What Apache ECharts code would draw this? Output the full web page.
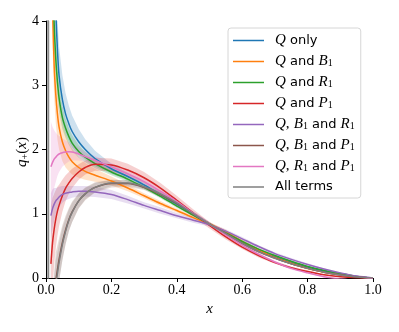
<!DOCTYPE html>
<html>
<head>
<meta charset="utf-8">
<script src="https://cdn.jsdelivr.net/npm/echarts@6/dist/echarts.min.js"></script>
<style>
html, body { margin: 0; padding: 0; background: #fff; }
#main { width: 399px; height: 332px; }
</style>
</head>
<body>
<div id="main"></div>
<script>
// x grid shared by every curve
var xs = [0.005, 0.01, 0.015, 0.02, 0.025, 0.03, 0.035, 0.04, 0.05, 0.06, 0.07, 0.08, 0.1, 0.12, 0.15,
          0.2, 0.25, 0.3, 0.35, 0.4, 0.45, 0.5, 0.55, 0.6, 0.65, 0.7, 0.75, 0.8, 0.85, 0.9, 0.95, 1.0];

var qOnly    = [null, null, null, 6.2, 5.0, 4.15, 3.55, 3.15, 2.78, 2.55, 2.40, 2.28, 2.12, 2.00, 1.86,
                1.70, 1.58, 1.45, 1.30, 1.15, 1.00, 0.84, 0.69, 0.55, 0.43, 0.33, 0.24, 0.17, 0.11, 0.06, 0.02, 0];
var qB1      = [null, null, null, 4.2, 3.3, 2.85, 2.55, 2.35, 2.12, 1.98, 1.88, 1.81, 1.72, 1.66, 1.60,
                1.51, 1.40, 1.28, 1.16, 1.05, 0.94, 0.84, 0.72, 0.57, 0.44, 0.32, 0.23, 0.15, 0.09, 0.05, 0.015, 0];
var qR1      = [null, null, null, 4.8, 3.95, 3.4, 3.05, 2.8, 2.5, 2.33, 2.2, 2.1, 1.97, 1.88, 1.78,
                1.65, 1.54, 1.41, 1.27, 1.12, 0.98, 0.84, 0.70, 0.57, 0.45, 0.35, 0.26, 0.18, 0.12, 0.07, 0.025, 0];
var qP1      = [null, null, 0.22, 0.55, 0.76, 0.92, 1.04, 1.13, 1.28, 1.40, 1.48, 1.55, 1.65, 1.72, 1.77,
                1.76, 1.68, 1.56, 1.40, 1.21, 1.01, 0.82, 0.64, 0.48, 0.35, 0.24, 0.16, 0.10, 0.05, 0.02, 0.005, 0];
var qB1R1    = [null, null, 0.97, 1.08, 1.15, 1.20, 1.23, 1.26, 1.30, 1.32, 1.33, 1.34, 1.35, 1.35, 1.34,
                1.30, 1.22, 1.13, 1.05, 0.97, 0.90, 0.83, 0.73, 0.61, 0.49, 0.38, 0.29, 0.21, 0.14, 0.08, 0.03, 0];
var qB1P1    = [null, null, null, -1.4, -0.5, -0.05, 0.13, 0.29, 0.55, 0.75, 0.91, 1.03, 1.20, 1.31, 1.41,
                1.47, 1.47, 1.41, 1.30, 1.16, 1.00, 0.84, 0.69, 0.54, 0.41, 0.31, 0.22, 0.15, 0.09, 0.045, 0.015, 0];
var qR1P1    = [null, null, 1.73, 1.80, 1.85, 1.88, 1.91, 1.93, 1.95, 1.96, 1.965, 1.96, 1.93, 1.89, 1.83,
                1.73, 1.62, 1.50, 1.35, 1.19, 1.01, 0.84, 0.67, 0.51, 0.37, 0.25, 0.15, 0.08, 0.02, -0.015, -0.035, 0];
var allTerms = [30, -30, -8, -1.5, -0.6, -0.12, 0.07, 0.24, 0.52, 0.73, 0.90, 1.02, 1.20, 1.31, 1.41,
                1.48, 1.48, 1.42, 1.31, 1.17, 1.00, 0.84, 0.69, 0.54, 0.41, 0.31, 0.22, 0.15, 0.09, 0.045, 0.015, 0];

// half widths of the shaded uncertainty bands
var qOnlyErr    = [null, null, null, 1.0, 0.8, 0.6, 0.5, 0.45, 0.38, 0.32, 0.28, 0.25, 0.2, 0.16, 0.12,
                   0.08, 0.06, 0.05, 0.04, 0.04, 0.03, 0.03, 0.03, 0.03, 0.02, 0.02, 0.02, 0.02, 0.01, 0.01, 0.01, 0];
var qB1Err      = [null, null, null, 0.6, 0.5, 0.45, 0.4, 0.35, 0.3, 0.26, 0.22, 0.2, 0.16, 0.13, 0.1,
                   0.07, 0.05, 0.04, 0.04, 0.03, 0.03, 0.03, 0.03, 0.03, 0.02, 0.02, 0.02, 0.02, 0.01, 0.01, 0.01, 0];
var qR1Err      = [null, null, null, 0.4, 0.35, 0.3, 0.25, 0.22, 0.18, 0.15, 0.13, 0.12, 0.1, 0.08, 0.07,
                   0.05, 0.04, 0.03, 0.03, 0.03, 0.02, 0.02, 0.02, 0.02, 0.02, 0.02, 0.01, 0.01, 0.01, 0.01, 0.01, 0];
var qP1Err      = [null, null, 0.9, 0.7, 0.55, 0.45, 0.38, 0.32, 0.25, 0.2, 0.17, 0.15, 0.12, 0.11, 0.1,
                   0.1, 0.1, 0.09, 0.08, 0.07, 0.06, 0.05, 0.04, 0.03, 0.03, 0.02, 0.02, 0.02, 0.01, 0.01, 0.01, 0];
var qB1R1Err    = [null, null, 0.35, 0.3, 0.25, 0.2, 0.18, 0.16, 0.13, 0.11, 0.1, 0.09, 0.08, 0.08, 0.08,
                   0.07, 0.06, 0.05, 0.05, 0.04, 0.04, 0.03, 0.03, 0.03, 0.02, 0.02, 0.02, 0.02, 0.01, 0.01, 0.01, 0];
var qB1P1Err    = [null, null, null, 1.0, 0.6, 0.45, 0.38, 0.33, 0.27, 0.22, 0.18, 0.16, 0.12, 0.1, 0.08,
                   0.06, 0.05, 0.04, 0.04, 0.03, 0.03, 0.02, 0.02, 0.02, 0.02, 0.02, 0.01, 0.01, 0.01, 0.01, 0.01, 0];
var qR1P1Err    = [null, null, 0.7, 0.55, 0.45, 0.38, 0.32, 0.28, 0.22, 0.18, 0.15, 0.13, 0.1, 0.08, 0.07,
                   0.06, 0.05, 0.05, 0.04, 0.04, 0.03, 0.03, 0.03, 0.02, 0.02, 0.02, 0.02, 0.01, 0.01, 0.01, 0.01, 0];
var allTermsErr = [40, 40, 2, 1.0, 0.6, 0.4, 0.33, 0.3, 0.25, 0.2, 0.17, 0.15, 0.11, 0.09, 0.07,
                   0.05, 0.04, 0.04, 0.03, 0.03, 0.03, 0.02, 0.02, 0.02, 0.02, 0.02, 0.01, 0.01, 0.01, 0.01, 0.01, 0];

var names = ['Q only', 'Q and B1', 'Q and R1', 'Q and P1', 'Q, B1 and R1', 'Q, B1 and P1', 'Q, R1 and P1', 'All terms'];
var labels = [
    '{m|Q} only',
    '{m|Q} and {m|B}{s|1}',
    '{m|Q} and {m|R}{s|1}',
    '{m|Q} and {m|P}{s|1}',
    '{m|Q}{n|,} {m|B}{s|1} and {m|R}{s|1}',
    '{m|Q}{n|,} {m|B}{s|1} and {m|P}{s|1}',
    '{m|Q}{n|,} {m|R}{s|1} and {m|P}{s|1}',
    'All terms'
];
var colors = ['#1f77b4', '#ff7f0e', '#2ca02c', '#d62728', '#9467bd', '#8c564b', '#e377c2', '#7f7f7f'];
var curves = [qOnly, qB1, qR1, qP1, qB1R1, qB1P1, qR1P1, allTerms];
var errs = [qOnlyErr, qB1Err, qR1Err, qP1Err, qB1R1Err, qB1P1Err, qR1P1Err, allTermsErr];

var serif = 'Liberation Serif';
var series = [];

// shaded bands first, as one polygon each
curves.forEach(function (vals, k) {
    var lo = [], hi = [];
    for (var i = 0; i < xs.length; i++) {
        if (vals[i] == null || errs[k][i] == null) continue;
        lo.push([xs[i], vals[i] - errs[k][i]]);
        hi.push([xs[i], vals[i] + errs[k][i]]);
    }
    series.push({
        name: 'band-' + k, type: 'custom', silent: true, clip: true,
        data: [[lo[0][0], 0]],
        renderItem: function (params, api) {
            var pts = [];
            hi.forEach(function (p) { pts.push(api.coord(p)); });
            lo.slice().reverse().forEach(function (p) { pts.push(api.coord(p)); });
            return {
                type: 'polygon',
                shape: { points: pts },
                style: { fill: colors[k], opacity: 0.22 }
            };
        }
    });
});

curves.forEach(function (vals, k) {
    var pts = [];
    for (var i = 0; i < xs.length; i++) {
        if (vals[i] != null) pts.push([xs[i], vals[i]]);
    }
    series.push({
        name: names[k], type: 'line', data: pts,
        symbol: 'none', smooth: 0.3,
        color: colors[k],
        lineStyle: { width: 1.5, color: colors[k] }
    });
});

var myChart = echarts.init(document.getElementById('main'));
myChart.setOption({
    animation: false,
    grid: { left: 46, right: 26, top: 21, bottom: 54 },
    xAxis: {
        type: 'value', min: 0, max: 1, interval: 0.2,
        name: 'x', nameLocation: 'middle', nameGap: 21,
        nameTextStyle: { fontFamily: serif, fontStyle: 'italic', fontSize: 15, color: '#000' },
        axisLine: { lineStyle: { color: '#000', width: 1 } },
        axisTick: { length: 4, lineStyle: { color: '#000' } },
        axisLabel: {
            fontFamily: serif, fontSize: 14, color: '#000', margin: 5,
            formatter: function (v) { return v.toFixed(1); }
        },
        splitLine: { show: false }
    },
    yAxis: {
        type: 'value', min: 0, max: 4, interval: 1,
        axisLine: { show: true, lineStyle: { color: '#000', width: 1 } },
        axisTick: { show: true, length: 4, lineStyle: { color: '#000' } },
        axisLabel: { fontFamily: serif, fontSize: 14, color: '#000', margin: 7 },
        splitLine: { show: false }
    },
    graphic: [{
        type: 'text', x: 22, y: 152, rotation: Math.PI / 2,
        style: {
            text: '{i|q}{s|+}{n|(}{i|x}{n|)}',
            align: 'center', verticalAlign: 'middle',
            rich: {
                i: { fontFamily: serif, fontStyle: 'italic', fontSize: 15, fill: '#000', lineHeight: 16 },
                s: { fontFamily: serif, fontSize: 10, fill: '#000', verticalAlign: 'bottom', lineHeight: 8 },
                n: { fontFamily: serif, fontSize: 15, fill: '#000', lineHeight: 16 }
            }
        }
    }],
    legend: {
        data: names, orient: 'vertical', left: 228, top: 28,
        icon: 'path://M0,0H31V1.5H0Z',
        padding: [5, 6, 4, 5], itemGap: 6, itemWidth: 31, itemHeight: 14,
        borderColor: '#d6d6d6', borderWidth: 1, borderRadius: 3,
        backgroundColor: 'rgba(255,255,255,0.8)',
        formatter: function (name) { return labels[names.indexOf(name)]; },
        textStyle: {
            fontFamily: 'DejaVu Sans', fontSize: 13, color: '#000', lineHeight: 14,
            padding: [0, 0, 0, 6],
            rich: {
                m: { fontFamily: serif, fontStyle: 'italic', fontSize: 15, color: '#000', lineHeight: 14 },
                n: { fontFamily: serif, fontSize: 15, color: '#000', lineHeight: 14 },
                s: { fontFamily: serif, fontSize: 10, color: '#000', lineHeight: 8, verticalAlign: 'bottom' }
            }
        }
    },
    series: series
});
</script>
</body>
</html>
